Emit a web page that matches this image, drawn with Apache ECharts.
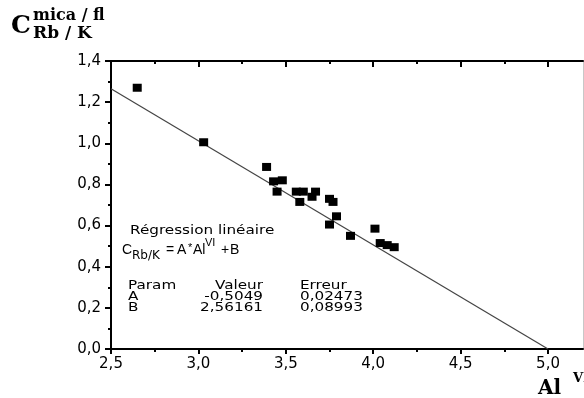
<!DOCTYPE html>
<html>
<head>
<meta charset="utf-8">
<script src="https://cdn.jsdelivr.net/npm/echarts@6/dist/echarts.min.js"></script>
<style>
  html, body { margin: 0; padding: 0; background: #fff; }
  #chart { width: 584px; height: 398px; }
</style>
</head>
<body>
<div id="chart"></div>
<script>
// measured points (Al VI, C Rb/K)
const alVI = [2.65, 3.03, 3.39, 3.43, 3.48, 3.45, 3.56, 3.60, 3.58, 3.67, 3.65, 3.75, 3.77, 3.79, 3.75, 3.87, 4.01, 4.04, 4.08, 4.12];
const cRbK = [1.27, 1.005, 0.885, 0.815, 0.82, 0.765, 0.765, 0.765, 0.715, 0.765, 0.74, 0.73, 0.715, 0.645, 0.605, 0.55, 0.585, 0.515, 0.505, 0.495];

// fitted line as drawn
const fitX = [2.5, 5.0];
const fitY = [1.265, 0.0];

// regression table
const paramNames = ['A', 'B'];
const paramValues = ['-0,5049', '2,56161'];
const paramErrors = ['0,02473', '0,08993'];

const comma = (v) => v.toFixed(1).replace('.', ',');
const sans = 'DejaVu Sans';
const narrow = 'Liberation Sans';
const serif = 'DejaVu Serif';
const ink = '#000';
const stretch = 1.17; // the original lettering is drawn a bit wide

let chartDom = document.getElementById('chart');
let myChart = echarts.init(chartDom);

// grid 0 is the full plot (2.5 .. 5.2); grid 1 ends at 5.0 and only carries the ticks
const plotLeft = 111, plotRight = 1, plotW = 584 - plotLeft - plotRight;
const tickRight = 584 - (plotLeft + plotW * (5.0 - 2.5) / (5.2 - 2.5));

const tickAxis = (pos, inside, len) => ({
  type: 'value', gridIndex: 1, min: 2.5, max: 5.0, interval: 0.5, position: pos,
  splitLine: { show: false },
  axisLine: { show: false, onZero: false },
  axisTick: { show: true, inside: inside, length: len, lineStyle: { color: ink, width: 2 } },
  minorTick: { show: true, splitNumber: 2, length: 3, lineStyle: { color: ink, width: 2 } },
  axisLabel: pos === 'bottom'
    ? { formatter: comma, margin: 8, color: ink, fontSize: 15, fontFamily: sans }
    : { show: false },
});

const frameAxis = (pos) => ({
  type: 'value', gridIndex: 0, min: 2.5, max: 5.2, position: pos,
  splitLine: { show: false },
  axisLine: { show: true, onZero: false, lineStyle: { color: ink, width: 2 } },
  axisTick: { show: false },
  axisLabel: { show: false },
});

// plain text piece
let txt = (left, top, text, font) => ({ type: 'text', left: left, top: top, style: { text: text, font: font, fill: ink } });
// widened text piece, anchored at x (left or right edge)
let wide = (x, y, text, align) => ({
  type: 'text', x: x, y: y, scaleX: stretch,
  style: { text: text, font: '13px ' + sans, fill: ink, align: align || 'left', verticalAlign: 'top' },
});

let tableTexts = [
  wide(128, 279, 'Param'),
  wide(263, 279, 'Valeur', 'right'),
  wide(300, 279, 'Erreur'),
];
paramNames.forEach((name, i) => {
  let top = 290.5 + i * 10.5;
  tableTexts.push(wide(128, top, name));
  tableTexts.push(wide(263, top, paramValues[i], 'right'));
  tableTexts.push(wide(300, top, paramErrors[i]));
});

let option = {
  animation: false,
  backgroundColor: '#fff',
  grid: [
    { left: plotLeft, top: 61, right: plotRight, bottom: 49 },
    { left: plotLeft, top: 61, right: tickRight, bottom: 49 },
  ],
  xAxis: [
    frameAxis('bottom'),
    frameAxis('top'),
    tickAxis('bottom', false, 5),
    tickAxis('top', true, 6),
  ],
  yAxis: [
    {
      type: 'value', gridIndex: 0, min: 0, max: 1.4, interval: 0.2, position: 'left',
      splitLine: { show: false },
      axisLine: { show: true, onZero: false, lineStyle: { color: ink, width: 2 } },
      axisTick: { show: true, length: 6, lineStyle: { color: ink, width: 2 } },
      minorTick: { show: true, splitNumber: 2, length: 3, lineStyle: { color: ink, width: 2 } },
      axisLabel: { formatter: comma, margin: 10, color: ink, fontSize: 15, fontFamily: sans },
    },
    {
      type: 'value', gridIndex: 0, min: 0, max: 1.4, position: 'right',
      splitLine: { show: false },
      axisLine: { show: true, onZero: false, lineStyle: { color: '#c8c8c8', width: 1 } },
      axisTick: { show: false },
      axisLabel: { show: false },
    },
    {
      type: 'value', gridIndex: 1, min: 0, max: 1.4, show: false,
    },
  ],
  series: [
    {
      name: 'fit',
      type: 'line',
      xAxisIndex: 0, yAxisIndex: 0,
      data: fitX.map((x, i) => [x, fitY[i]]),
      symbol: 'none',
      lineStyle: { color: '#444', width: 1.2 },
      z: 2,
    },
    {
      name: 'mesures',
      type: 'scatter',
      xAxisIndex: 0, yAxisIndex: 0,
      data: alVI.map((x, i) => [x, cRbK[i]]),
      symbol: 'rect',
      symbolSize: [9, 8],
      itemStyle: { color: ink, opacity: 1 },
      z: 3,
    },
  ],
  graphic: [
    // y axis title
    txt(11, 14, 'C', 'bold 25px ' + serif),
    txt(33, 8, 'mica / fl', 'bold 16px ' + serif),
    txt(33, 25, 'Rb / K', 'bold 17px ' + serif),
    // x axis title
    txt(538, 379, 'Al', 'bold 20px ' + serif),
    txt(573, 372, 'VI', 'bold 13px ' + serif),
    // regression annotation
    wide(130, 224, 'Régression linéaire'),
    txt(122, 243, 'C', '14px ' + narrow),
    txt(132, 250, 'Rb/K', '12px ' + sans),
    txt(166, 243, '=', '14px ' + narrow),
    txt(177, 243, 'A', '14px ' + narrow),
    txt(188, 242, '*', '11px ' + narrow),
    txt(193, 243, 'Al', '14px ' + narrow),
    txt(205, 237, 'VI', '11px ' + narrow),
    txt(221, 243, '+', '14px ' + narrow),
    txt(230, 243, 'B', '14px ' + narrow),
    ...tableTexts,
  ],
};

myChart.setOption(option);
</script>
</body>
</html>
